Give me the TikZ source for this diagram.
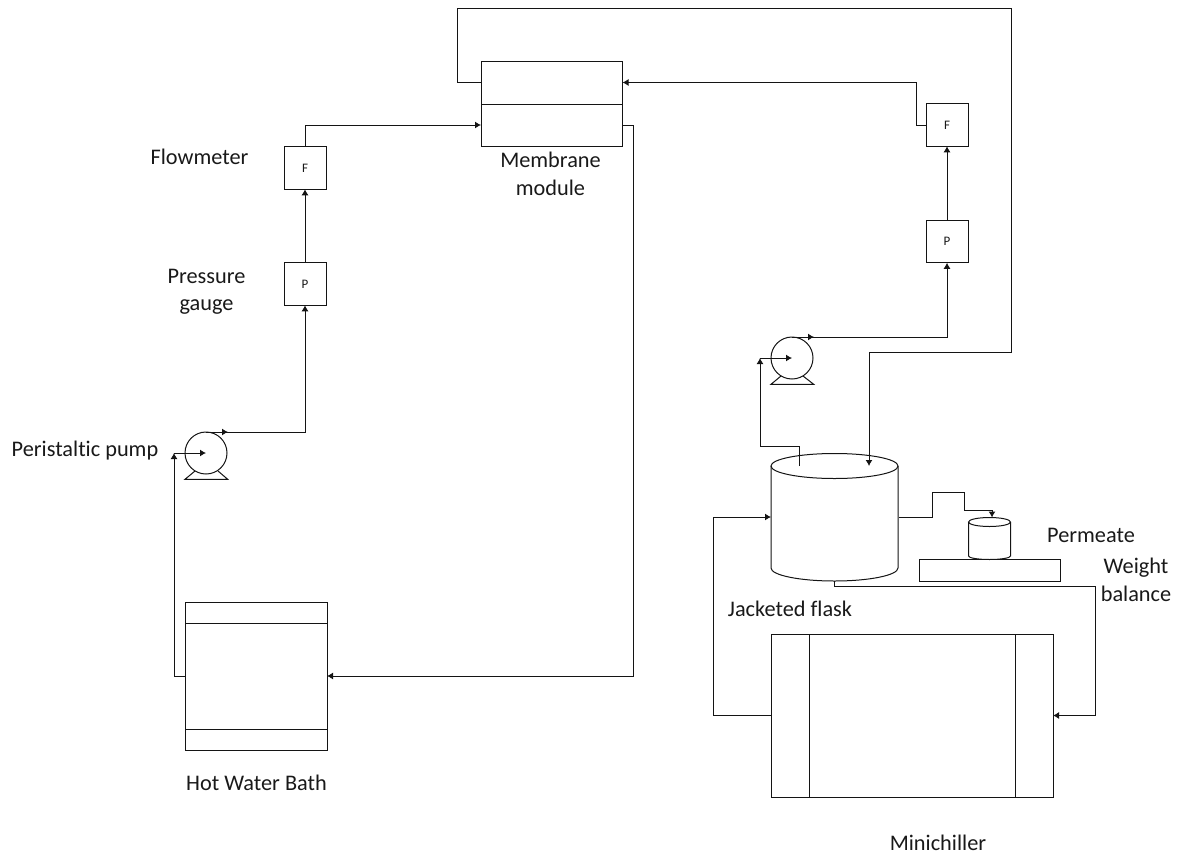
\documentclass[tikz,border=0pt]{standalone}
\usepackage{fontspec}
\setmainfont[RawFeature={-liga;-clig}]{Carlito}
\usetikzlibrary{arrows.meta,calc}
\tikzset{
  x=1pt,y=-1pt,
  every path/.style={line width=1pt,color=black!92},
  boxpart/.style={draw,rectangle,inner sep=0pt,outer sep=0pt},
  gauge/.style={boxpart,minimum width=42pt,minimum height=42.5pt,font=\fontsize{13}{15}\selectfont,text=black!90},
  pumpbody/.style={draw,circle,inner sep=0pt,outer sep=0pt,minimum size=42pt},
  flow/.style={-{Latex[length=6pt,width=7pt]}},
  lbl/.style={inner sep=0pt,font=\fontsize{22.3}{27.5}\selectfont,text=black!90,align=center}
}
\begin{document}
\begin{tikzpicture}
\useasboundingbox (0,0) rectangle (1189,854);
% membrane module
\node[boxpart,minimum width=141.5pt,minimum height=43pt] (memtop) at (551.75,82.5) {};
\node[boxpart,minimum width=141.5pt,minimum height=42pt] (membot) at (551.75,125) {};
% left gauges
\node[gauge] (fl) at (305,168) {F};
\node[gauge] (pl) at (305,284) {P};
% right gauges
\node[gauge] (fr) at (947,125) {F};
\node[gauge] (pr) at (947,241.5) {P};
% pumps
\node[pumpbody] (pumpa) at (206,453) {};
\node[pumpbody] (pumpb) at (792,358) {};
\draw (195,471) -- (185,479.3) -- (227.7,479.3) -- (218,471);
\draw (781,376) -- (771,384.3) -- (813.7,384.3) -- (803,376);
% hot water bath
\node[boxpart,minimum width=142pt,minimum height=21pt] (bathtop) at (256,612.5) {};
\node[boxpart,minimum width=142pt,minimum height=106pt] (bathmid) at (256,676) {};
\node[boxpart,minimum width=142pt,minimum height=21pt] (bathbot) at (256,739.5) {};
% minichiller
\node[boxpart,minimum width=38pt,minimum height=163pt] (chilll) at (790,715.5) {};
\node[boxpart,minimum width=206pt,minimum height=163pt] (chillm) at (912,715.5) {};
\node[boxpart,minimum width=38pt,minimum height=163pt] (chillr) at (1034,715.5) {};
% jacketed flask
\draw (771,466) -- (771,568) arc[start angle=180,end angle=360,x radius=63.5,y radius=-13] -- (898,466);
\draw (834.5,466) ellipse[x radius=63.5,y radius=12.5];
\coordinate (flasktop) at (799,466);
\coordinate (flaskin) at (869,466);
\coordinate (flaskleft) at (771,517);
\coordinate (flaskright) at (899,517);
\coordinate (flaskbottom) at (834,581);
% permeate beaker
\draw (968.5,522) -- (968.5,556) arc[start angle=180,end angle=360,x radius=21,y radius=-3.5] -- (1010.5,522);
\draw (989.5,522) ellipse[x radius=21,y radius=4.5];
\coordinate (beakertop) at (992,517.5);
% weight balance
\node[boxpart,minimum width=141pt,minimum height=21.5pt] (balance) at (989.5,570.25) {};
% connectors, left loop
\draw[flow] (bathmid.west) -- (174,676) -- (174,453);
\draw[flow] (174,453) -- (pumpa.center);
\draw[flow] (pumpa.north) -- +(22,0);
\draw[flow] (pumpa.north) -- (305,432) -- (pl.south);
\draw[flow] (pl.north) -- (fl.south);
\draw[flow] (fl.north) |- (membot.west);
\draw[flow] (membot.east) -- (633,125) -- (633,676) -- (bathmid.east);
% connectors, right loop
\draw[flow] (memtop.west) -- (457,82.5) -- (457,8) -- (1011,8) -- (1011,352) -- (869,352) -- (flaskin);
\draw[flow] (flasktop) -- (799,446) -- (760,446) -- (760,358);
\draw[flow] (760,358) -- (pumpb.center);
\draw[flow] (pumpb.north) -- +(22,0);
\draw[flow] (pumpb.north) -- (947,337) -- (pr.south);
\draw[flow] (pr.north) -- (fr.south);
\draw[flow] (fr.west) -- (916,125) -- (916,82.5) -- (memtop.east);
% connectors, flask
\draw[flow] (flaskright) -- (932,517) -- (932,492.5) -- (964,492.5) -- (964,510) -- (992,510) -- (beakertop);
\draw[flow] (flaskbottom) -- (834,586) -- (1095,586) -- (1095,715.5) -- (chillr.east);
\draw[flow] (chilll.west) -- (713,715.5) -- (713,517) -- (flaskleft);
% labels
\node[lbl] (t1) at (199.5,157) {Flowmeter};
\node[lbl] (t2) at (206.5,292) {Pressure\\gauge};
\node[lbl] (t3) at (85,451) {Peristaltic pump};
\node[lbl] (t4) at (256.5,782.5) {Hot Water Bath};
\node[lbl] (t5) at (550.5,174) {Membrane\\module};
\node[lbl] (t6) at (1091,535) {Permeate};
\node[lbl] (t7) at (1136,580) {Weight\\balance};
\node[lbl] (t8) at (790,609) {Jacketed flask};
\node[lbl] (t9) at (938,842.5) {Minichiller};
\end{tikzpicture}
\end{document}
